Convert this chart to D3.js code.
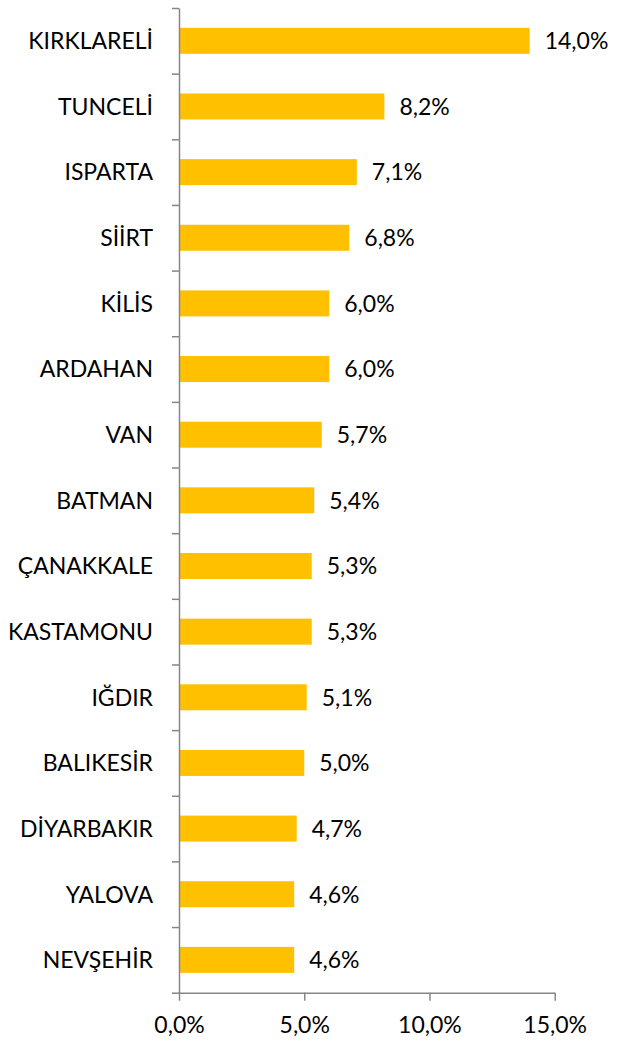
<!DOCTYPE html>
<html lang="tr">
<head>
<meta charset="UTF-8">
<title>İller</title>
<script src="https://cdn.jsdelivr.net/npm/d3@7"></script>
<style>
  body { margin: 0; background: #fff; }
  svg { display: block; }
</style>
</head>
<body>
<div id="chart"></div>
<script>
const provinces = ["KIRKLARELİ", "TUNCELİ", "ISPARTA", "SİİRT", "KİLİS", "ARDAHAN", "VAN", "BATMAN",
  "ÇANAKKALE", "KASTAMONU", "IĞDIR", "BALIKESİR", "DİYARBAKIR", "YALOVA", "NEVŞEHİR"];
const shares = [14.0, 8.2, 7.1, 6.8, 6.0, 6.0, 5.7, 5.4, 5.3, 5.3, 5.1, 5.0, 4.7, 4.6, 4.6];
const xTicks = [0, 5, 10, 15];

const width = 620, height = 1043;
const margin = {top: 8, right: 65, bottom: 50, left: 179};
const font = "Lato, 'Open Sans', sans-serif";
const fs = 23;
const fmt = v => v.toFixed(1).replace(".", ",") + "%";

const x = d3.scaleLinear().domain([0, 15]).range([margin.left, 554.7]);
const y = d3.scaleBand().domain(provinces).range([margin.top, 992.7]).paddingInner(0.604).paddingOuter(0.302);
// boundary ticks between categories
const yEdge = d3.scaleLinear().domain([0, provinces.length]).range([margin.top, 992.7]);

const svg = d3.select("#chart").append("svg")
  .attr("width", width)
  .attr("height", height);

svg.append("g")
  .selectAll("rect")
  .data(provinces)
  .join("rect")
  .attr("x", x(0))
  .attr("y", d => y(d))
  .attr("width", (d, i) => x(shares[i]) - x(0))
  .attr("height", y.bandwidth())
  .attr("fill", "#FFC000");

// y axis: line + boundary ticks
const yAxis = svg.append("g")
  .attr("transform", `translate(${x(0)},0)`)
  .call(d3.axisLeft(yEdge).tickValues(d3.range(provinces.length + 1)).tickSize(7).tickSizeOuter(0).tickFormat(""));
yAxis.select(".domain").attr("stroke", "#868686").attr("stroke-width", 1.5);
yAxis.selectAll(".tick line").attr("stroke", "#868686").attr("stroke-width", 1.5);

// category labels
svg.append("g")
  .attr("font-family", font)
  .attr("font-size", fs)
  .attr("text-anchor", "end")
  .selectAll("text")
  .data(provinces)
  .join("text")
  .attr("x", 153)
  .attr("y", d => y(d) + y.bandwidth() / 2)
  .attr("dy", "0.36em")
  .attr("fill", "#000")
  .text(d => d);

// x axis
const xAxis = svg.append("g")
  .attr("transform", `translate(0,992.7)`)
  .call(d3.axisBottom(x).tickValues(xTicks).tickSize(8).tickSizeOuter(0).tickFormat(d => fmt(d)));
xAxis.select(".domain").attr("stroke", "#868686").attr("stroke-width", 1.5);
xAxis.selectAll(".tick line").attr("stroke", "#868686").attr("stroke-width", 1.5);
xAxis.selectAll(".tick text")
  .attr("font-family", font)
  .attr("font-size", fs)
  .attr("fill", "#000")
  .attr("y", 0)
  .attr("dy", "1.77em");

// value labels
svg.append("g")
  .attr("font-family", font)
  .attr("font-size", fs)
  .selectAll("text")
  .data(provinces)
  .join("text")
  .attr("x", (d, i) => x(shares[i]) + 15)
  .attr("y", d => y(d) + y.bandwidth() / 2)
  .attr("dy", "0.36em")
  .attr("fill", "#000")
  .text((d, i) => fmt(shares[i]));
</script>
</body>
</html>
